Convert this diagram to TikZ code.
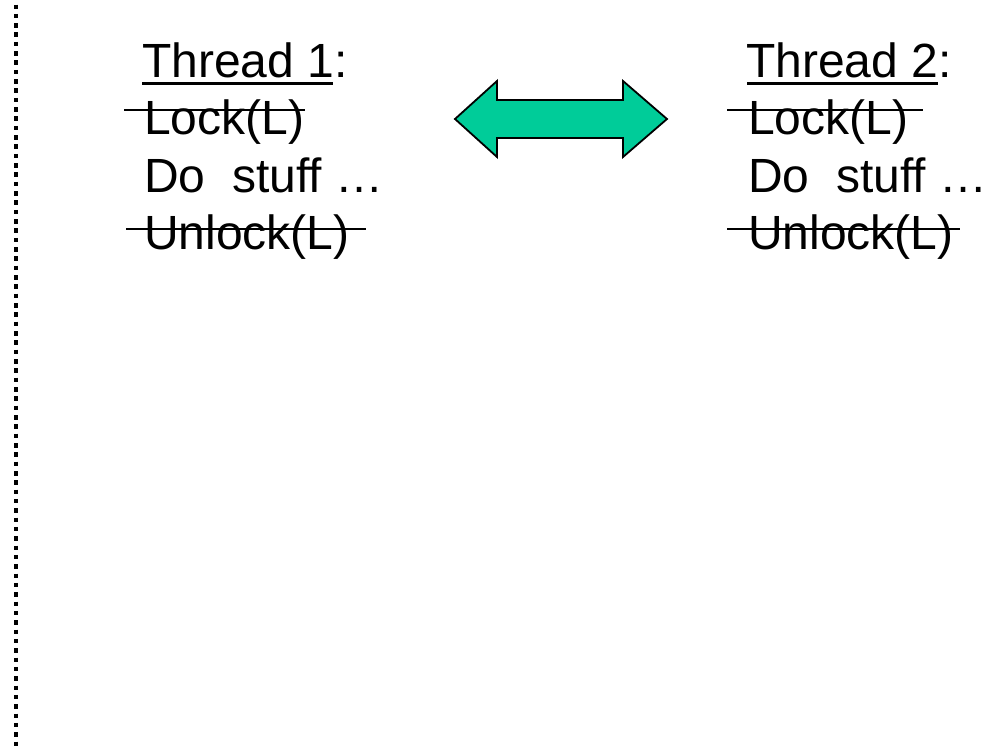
\documentclass[tikz,border=0pt]{standalone}
\usepackage{fontspec}
\setmainfont{Liberation Sans}
\definecolor{arrowgreen}{HTML}{00CC99}
\tikzset{
  txt/.style={anchor=base west, inner sep=0pt, font=\fontsize{48}{57.5}\selectfont},
  strike/.style={line width=2pt},
  uline/.style={line width=3pt},
  dotline/.style={line width=4.5pt, dash pattern=on 4.5pt off 4.83pt},
  bigarrow/.style={fill=arrowgreen, draw=black, line width=1.8pt, line join=miter}
}
\begin{document}
\begin{tikzpicture}[x=1pt,y=-1pt]
\useasboundingbox (0,0) rectangle (987,747);
% dotted vertical line
\coordinate (dtop) at (16,4.5);
\coordinate (dbot) at (16,747);
\draw[dotline] (dtop) -- (dbot);
% Thread 1
\node[txt] (t1) at (142,77) {Thread 1:};
\node[txt] (l1) at (144,134.5) {Lock(L)};
\node[txt] (d1) at (144,192) {Do\ \ stuff …};
\node[txt] (u1) at (144,249.5) {Unlock(L)};
% Thread 2
\node[txt] (t2) at (746,77) {Thread 2:};
\node[txt] (l2) at (748,134.5) {Lock(L)};
\node[txt] (d2) at (748,192) {Do\ \ stuff …};
\node[txt] (u2) at (748,249.5) {Unlock(L)};
% underlines
\coordinate (ua1) at (142,83); \coordinate (ub1) at (333,83);
\coordinate (ua2) at (747,83); \coordinate (ub2) at (938,83);
\draw[uline] (ua1) -- (ub1);
\draw[uline] (ua2) -- (ub2);
% strike lines
\coordinate (sl1a) at (124,110); \coordinate (sl1b) at (305,110);
\coordinate (su1a) at (126,229); \coordinate (su1b) at (366,229);
\coordinate (sl2a) at (727,110); \coordinate (sl2b) at (923,110);
\coordinate (su2a) at (727,229); \coordinate (su2b) at (960,229);
\draw[strike] (sl1a) -- (sl1b);
\draw[strike] (su1a) -- (su1b);
\draw[strike] (sl2a) -- (sl2b);
\draw[strike] (su2a) -- (su2b);
% double arrow
\draw[bigarrow] (455,119) -- (497,81) -- (497,100) -- (623,100) -- (623,81)
  -- (667,119) -- (623,157) -- (623,138) -- (497,138) -- (497,157) -- cycle;
\end{tikzpicture}
\end{document}
